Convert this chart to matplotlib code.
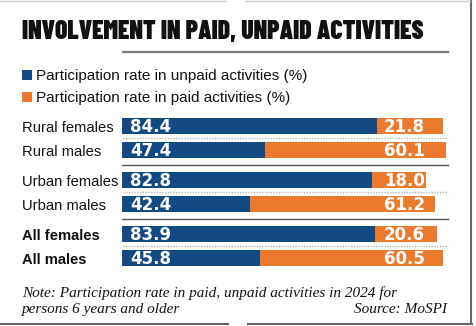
import matplotlib
matplotlib.use("Agg")
import matplotlib.pyplot as plt
from matplotlib.transforms import blended_transform_factory
from matplotlib.patches import Rectangle
from matplotlib.lines import Line2D

# ---- data ----
categories = ["Rural females", "Rural males", "Urban females", "Urban males",
              "All females", "All males"]
unpaid = [84.4, 47.4, 82.8, 42.4, 83.9, 45.8]
paid = [21.8, 60.1, 18.0, 61.2, 20.6, 60.5]
bold_rows = [False, False, False, False, True, True]
legend_labels = ["Participation rate in unpaid activities (%)",
                 "Participation rate in paid activities (%)"]
title = "INVOLVEMENT IN PAID, UNPAID ACTIVITIES"
note_lines = ["Note: Participation rate in paid, unpaid activities in 2024 for",
              "persons 6 years and older"]
source = "Source: MoSPI"

# ---- style / layout ----
W, H = 477, 326
BLUE = "#124a84"
ORANGE = "#ec7a2d"
TEXT = "#111111"
row_y = [126, 150, 180, 204, 234, 258]   # row centres in pixels from top
bar_h = 16

fig = plt.figure(figsize=(W / 100, H / 100), dpi=100)
fig.patch.set_facecolor("white")

# axes: x in data units, y in pixels from top
ax = fig.add_axes([122 / W, 0, 332 / W, 1])
ax.set_xlim(0, 110)
ax.set_ylim(H, 0)
ax.axis("off")

ax.barh(row_y, unpaid, height=bar_h, color=BLUE, edgecolor="none")
ax.barh(row_y, paid, left=unpaid, height=bar_h, color=ORANGE, edgecolor="none")


def fx(px):
    return px / W


tr = blended_transform_factory(fig.transFigure, ax.transData)

for i, cat in enumerate(categories):
    ax.text(fx(22), row_y[i] + 5.5, cat, transform=tr, fontsize=10.6,
            family="Liberation Sans",
            fontweight="bold" if bold_rows[i] else "normal",
            va="baseline", ha="left", color=TEXT)
    ax.text(fx(130), row_y[i] + 6, f"{unpaid[i]:.1f}", transform=tr,
            fontsize=12, family="DejaVu Sans", fontweight="bold",
            color="white", va="baseline", ha="left")
    ax.text(fx(384), row_y[i] + 6, f"{paid[i]:.1f}", transform=tr,
            fontsize=12, family="DejaVu Sans", fontweight="bold",
            color="white", va="baseline", ha="left")

# separators
for y in [138, 192, 246]:
    ax.add_line(Line2D([fx(20), fx(448)], [y, y], transform=tr,
                       color="#b5b5b5", lw=1.0, ls=(0, (1, 1))))
for y in [164.5, 219]:
    ax.add_line(Line2D([fx(20), fx(448)], [y, y], transform=tr,
                       color="#555555", lw=1.0))

# title
ax.text(fx(22), 39, title, transform=tr, fontsize=18.5,
        family=["Barlow Condensed", "DejaVu Sans"], fontweight=900,
        va="baseline", ha="left", color=TEXT)
ax.add_line(Line2D([fx(22), fx(448)], [52, 52], transform=tr,
                   color="#7a7a7a", lw=1.6))

# legend
for (y, col, lab) in [(75, BLUE, legend_labels[0]), (97, ORANGE, legend_labels[1])]:
    fig.add_artist(Rectangle((fx(22), 1 - (y + 5) / H), 10 / W, 10 / H,
                             transform=fig.transFigure, color=col, lw=0))
    ax.text(fx(36), y + 5, lab, transform=tr, fontsize=11,
            family="Liberation Sans", va="baseline", ha="left", color=TEXT)

# note + source
ax.text(fx(22), 297, note_lines[0], transform=tr, fontsize=11,
        family="Liberation Serif", style="italic", va="baseline", ha="left",
        color=TEXT)
ax.text(fx(22), 313, note_lines[1], transform=tr, fontsize=11,
        family="Liberation Serif", style="italic", va="baseline", ha="left",
        color=TEXT)
ax.text(fx(447), 313, source, transform=tr, fontsize=11,
        family="Liberation Serif", style="italic", va="baseline", ha="right",
        color=TEXT)

# frame
ax.add_line(Line2D([fx(471.5), fx(471.5)], [0, 324], transform=tr,
                   color="#666666", lw=1.5, clip_on=False))
ax.add_line(Line2D([fx(0), fx(228)], [324, 324], transform=tr,
                   color="#666666", lw=1.5, clip_on=False))
ax.add_line(Line2D([fx(248), fx(472)], [324, 324], transform=tr,
                   color="#666666", lw=1.5, clip_on=False))
ax.add_line(Line2D([fx(0), fx(225)], [0.5, 0.5], transform=tr,
                   color="#cccccc", lw=1.0, clip_on=False))
ax.add_line(Line2D([fx(245), fx(470)], [0.5, 0.5], transform=tr,
                   color="#cccccc", lw=1.0, clip_on=False))

fig.savefig("out.png", dpi=100, facecolor="white")
